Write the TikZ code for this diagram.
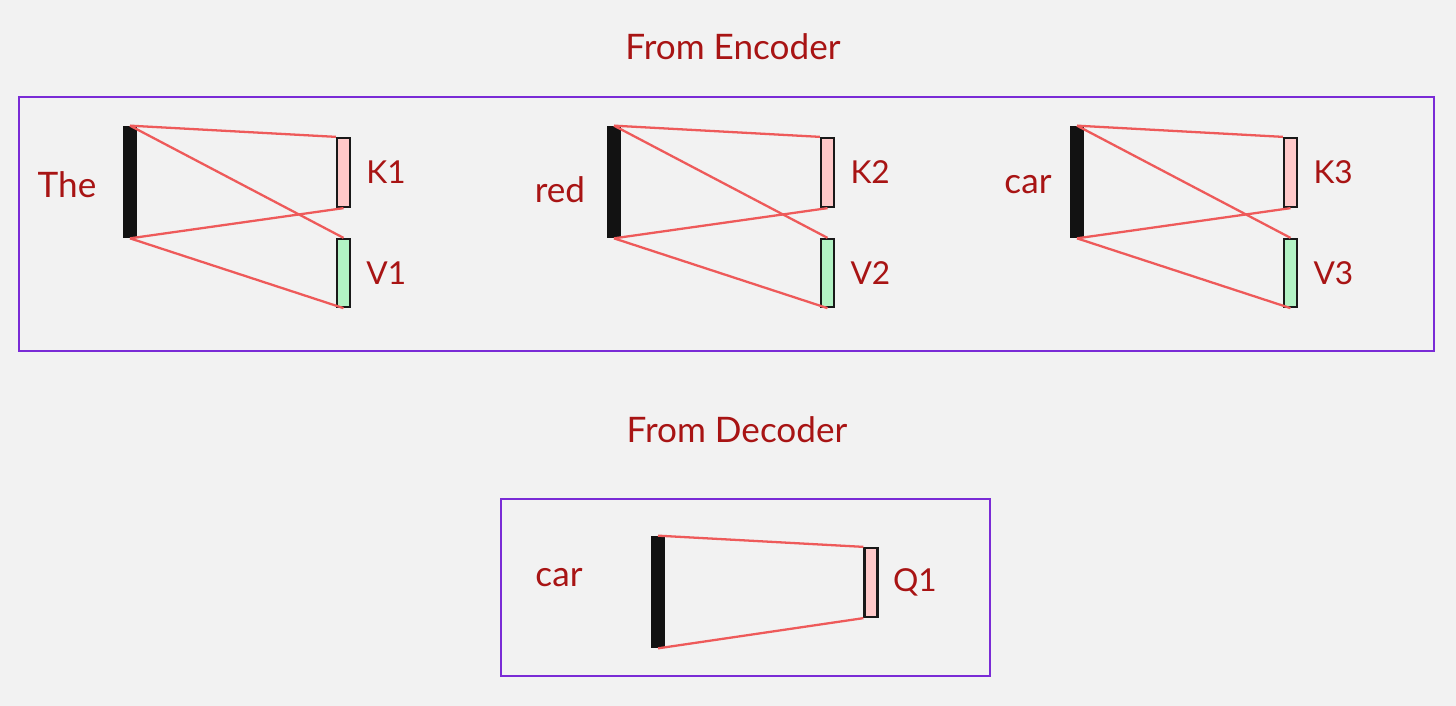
\documentclass[tikz,border=0pt]{standalone}
\usepackage{fontspec}
\setmainfont{Lato}
\usetikzlibrary{positioning, calc}
\definecolor{paper}{HTML}{F2F2F2}
\definecolor{inkred}{HTML}{A81414}
\definecolor{linkred}{HTML}{EE5A5A}
\definecolor{framepurple}{HTML}{7A2BD6}
\definecolor{keypink}{HTML}{FFC9C9}
\definecolor{valgreen}{HTML}{B2F2C4}

\begin{document}
\begin{tikzpicture}[
    x=0.02cm, y=-0.02cm,
    font={\fontsize{20}{24}\selectfont},
    lbl/.style={text=inkred, inner sep=0pt},
    small/.style={lbl, font={\fontsize{18}{22}\selectfont}},
    tokbar/.style={fill=black!93, inner sep=0pt, minimum width=0.28cm, minimum height=2.24cm},
    keybox/.style={draw=black!90, line width=1.3pt, fill=keypink, inner sep=0pt, minimum width=0.26cm, minimum height=1.38cm},
    valbox/.style={draw=black!90, line width=1.3pt, fill=valgreen, inner sep=0pt, minimum width=0.26cm, minimum height=1.36cm},
    link/.style={draw=linkred, line width=1.3pt},
    frame/.style={draw=framepurple, line width=1.3pt}
]

% Hintergrund und Bildgroesse
\fill[paper] (0,0) rectangle (1456,706);
\useasboundingbox (0,0) rectangle (1456,706);

% --- Oben: Encoder ---
\node[lbl] (enc) at (733,47) {From Encoder};
\draw[frame] (19,97) rectangle (1434,351);

% drei Tokens mit K und V
\foreach \n/\dx/\word/\wx/\wy in {1/0/The/67/185, 2/484/red/560/190, 3/947/car/1028/185} {
    \node[tokbar] (bar\n) at (130+\dx,182) {};
    \node[keybox] (k\n) at (343.5+\dx,172.5) {};
    \node[valbox] (v\n) at (343.5+\dx,273) {};
    \node[lbl] (w\n) at (\wx,\wy) {\word};
    \node[small, right=0.3cm of k\n] (kl\n) {K\n};
    \node[small, right=0.3cm of v\n] (vl\n) {V\n};
    % Verbindungen
    \draw[link] (bar\n.north) -- (k\n.north west);
    \draw[link] (bar\n.north) -- (v\n.north);
    \draw[link] (bar\n.south) -- (k\n.south);
    \draw[link] (bar\n.south) -- (v\n.south);
}

% --- Unten: Decoder ---
\node[lbl] (dec) at (737,430) {From Decoder};
\draw[frame] (501,499) rectangle (990,676);

\node[tokbar] (barq) at (658,592) {};
\node[keybox] (q1) at (871,582.5) {};
\node[lbl] (wq) at (559,578) {car};
\node[small, right=0.28cm of q1] (ql) {Q1};
\draw[link] (barq.north) -- (q1.north west);
\draw[link] (barq.south) -- (q1.south west);

\end{tikzpicture}
\end{document}
